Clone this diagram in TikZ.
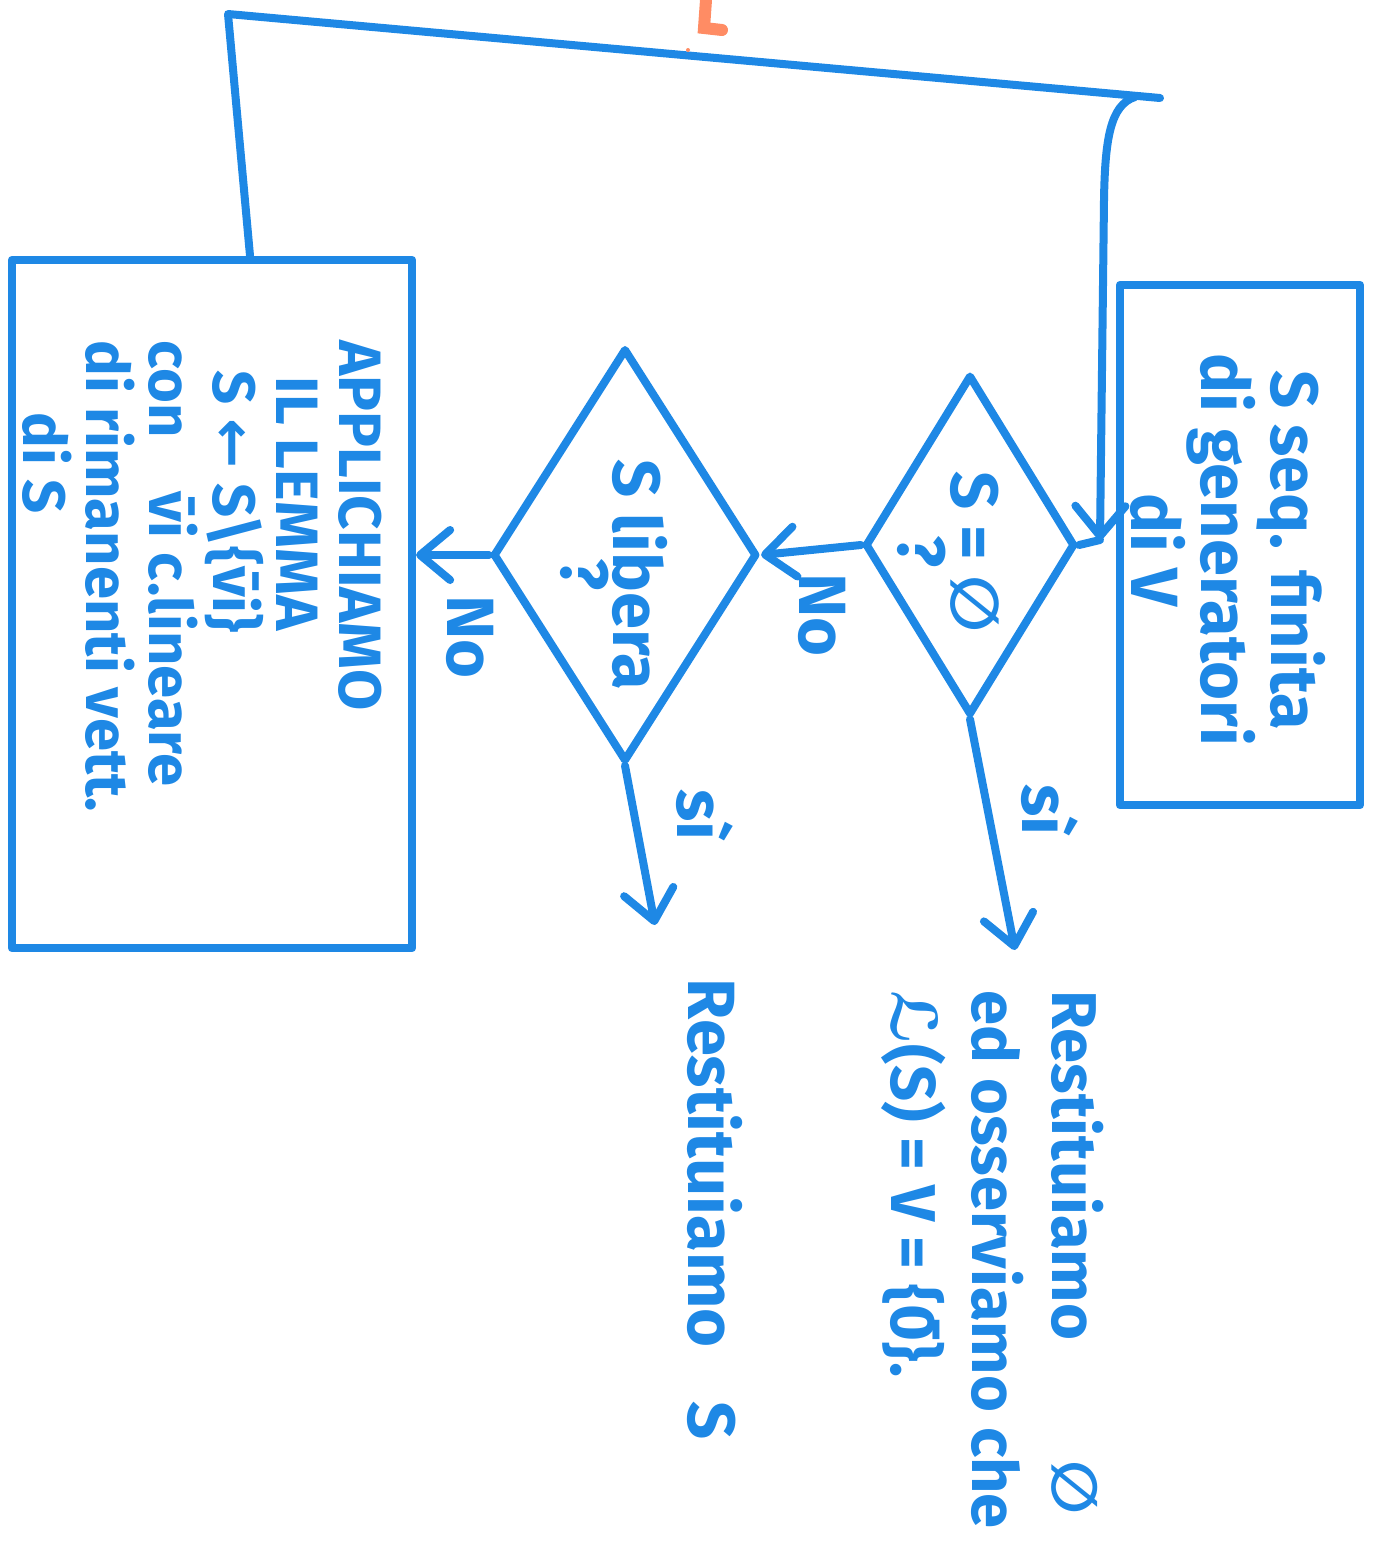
\documentclass[tikz,border=0pt]{standalone}
\usepackage{fontspec}
\setmainfont{Fira Sans}
\newfontfamily\symfont{DejaVu Sans}
\usetikzlibrary{arrows.meta,shapes.geometric}
\definecolor{pen}{RGB}{30,136,229}
\definecolor{pentwo}{RGB}{255,140,100}
\newcommand{\eset}{{\symfont\bfseries ∅}}
\begin{document}
\begin{tikzpicture}[x=0.01cm,y=-0.01cm,
  stroke/.style={draw=pen,line width=0.8mm,line cap=round,line join=round},
  box/.style={stroke,rectangle,inner sep=0pt},
  dia/.style={stroke,diamond,inner sep=0pt},
  txt/.style={text=pen,font=\bfseries\fontsize{19}{20}\selectfont,rotate=-90,inner sep=0pt},
  small/.style={font=\bfseries\fontsize{17}{18}\selectfont},
  tight/.style={font=\bfseries\fontsize{19}{15}\selectfont},
  conn/.style={stroke,-{Straight Barb[length=3mm,width=5mm,round]}}]
\useasboundingbox (0,0) rectangle (1383,1560);

% start box
\node[box,minimum width=2.4cm,minimum height=5.2cm] (start) at (1240,545) {};
\node[txt,align=center] (tstart) at (1228,550) {S seq. finita\\di generatori\\di V};

% decision 1
\node[dia,minimum width=2.1cm,minimum height=3.4cm] (d1) at (970,545) {};
\node[txt,tight,align=center] (td1) at (948,552) {S = \eset\\?};

% decision 2
\node[dia,minimum width=2.64cm,minimum height=4.13cm] (d2) at (625,555) {};
\node[txt,tight,align=center] (td2) at (614,575) {S libera\\?};

% lemma box
\node[box,minimum width=4cm,minimum height=6.88cm] (lb) at (212,604) {};
\node[txt,small,align=left,anchor=north west] (tlb) at (383,340) {APPLICHIAMO\\\hspace*{0.6em}IL LEMMA\\\hspace*{0.5em}S {\symfont\bfseries ←} S\textbackslash\{\={v}i\}\\con\hspace{0.9em}\={v}i c.lineare\\di rimanenti vett.\\\hspace*{1.2em}di S};

% results
\node[txt,anchor=west] (r2) at (715,978) {Restituiamo\hspace{0.8em}S};
\node[txt,anchor=north west,align=left,font=\bfseries\fontsize{18}{23}\selectfont] (r1) at (1105,990) {Restituiamo\hspace{1.9em}\eset\\ed osserviamo che\\{\symfont\bfseries ℒ}(S) = V = \{\={0}\}.};

% labels
\node[txt] (no1) at (822,615) {No};
\node[txt] (no2) at (470,637) {No};
\node[txt] (si1) at (705,815) {sì};
\node[txt] (si2) at (1050,810) {sì};

% connectors
\coordinate (c1) at (228,14);
\coordinate (c2) at (1160,98);
\coordinate (c3) at (1135,97);
\coordinate (jn) at (1100,540);
\coordinate (a1) at (1015,950);
\coordinate (a2) at (655,925);

\draw[stroke] ([xshift=0.38cm]lb.north) -- (c1) -- (c2);
\draw[conn] (c3) .. controls (1110,105) and (1105,140) .. (1104,200) -- (jn);
\draw[stroke] (jn) -- (d1.east);
\draw[conn] (d1.west) -- (d2.east);
\draw[conn] (d2.west) -- (d2.west -| lb.east);
\draw[conn] (d2.south) -- (a2);
\draw[conn] (d1.south) -- (a1);

% orange mark at top
\draw[draw=pentwo,line width=1.2mm,line cap=round] (706,0) -- (704,28) -- (722,30);
\fill[pentwo] (688,50) circle (2);
\end{tikzpicture}
\end{document}
